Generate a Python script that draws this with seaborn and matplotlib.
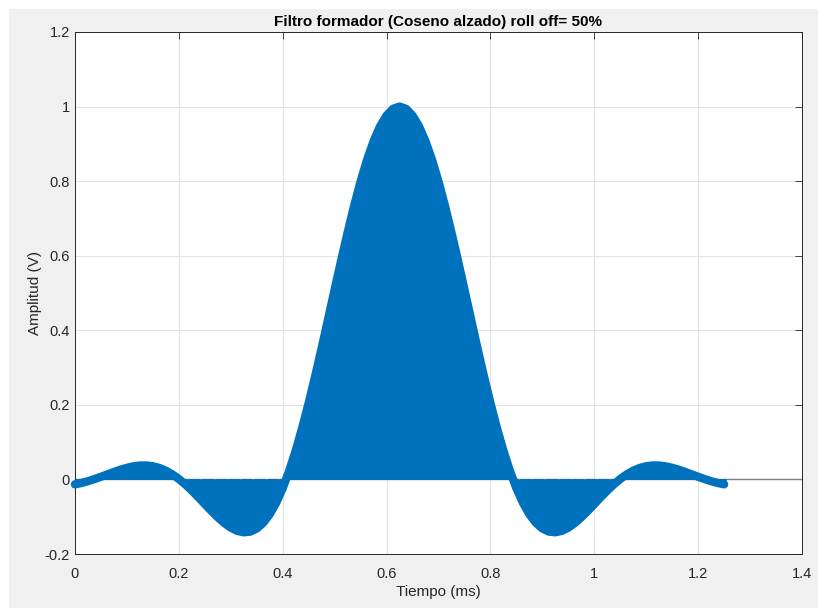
import matplotlib
matplotlib.use("Agg")
import matplotlib.pyplot as plt
import seaborn as sns
import pandas as pd
from matplotlib.patches import Rectangle
from matplotlib.ticker import FixedLocator, FuncFormatter

# Pulse-shaping filter output, sampled every 0.0125 ms (time in ms, amplitude in V)
tiempo = [0.0000, 0.0125, 0.0250, 0.0375, 0.0500, 0.0625, 0.0750, 0.0875, 0.1000, 0.1125,
          0.1250, 0.1375, 0.1500, 0.1625, 0.1750, 0.1875, 0.2000, 0.2125, 0.2250, 0.2375,
          0.2500, 0.2625, 0.2750, 0.2875, 0.3000, 0.3125, 0.3250, 0.3375, 0.3500, 0.3625,
          0.3750, 0.3875, 0.4000, 0.4125, 0.4250, 0.4375, 0.4500, 0.4625, 0.4750, 0.4875,
          0.5000, 0.5125, 0.5250, 0.5375, 0.5500, 0.5625, 0.5750, 0.5875, 0.6000, 0.6125,
          0.6250, 0.6375, 0.6500, 0.6625, 0.6750, 0.6875, 0.7000, 0.7125, 0.7250, 0.7375,
          0.7500, 0.7625, 0.7750, 0.7875, 0.8000, 0.8125, 0.8250, 0.8375, 0.8500, 0.8625,
          0.8750, 0.8875, 0.9000, 0.9125, 0.9250, 0.9375, 0.9500, 0.9625, 0.9750, 0.9875,
          1.0000, 1.0125, 1.0250, 1.0375, 1.0500, 1.0625, 1.0750, 1.0875, 1.1000, 1.1125,
          1.1250, 1.1375, 1.1500, 1.1625, 1.1750, 1.1875, 1.2000, 1.2125, 1.2250, 1.2375,
          1.2500]
amplitud = [-0.0132, -0.0095, -0.0047, 0.0009, 0.0071, 0.0136, 0.0201, 0.0261, 0.0312, 0.0351,
            0.0373, 0.0375, 0.0354, 0.0308, 0.0235, 0.0136, 0.0012, -0.0134, -0.0299, -0.0476,
            -0.0660, -0.0843, -0.1015, -0.1169, -0.1294, -0.1380, -0.1418, -0.1400, -0.1317, -0.1163,
            -0.0934, -0.0625, -0.0237, 0.0230, 0.0770, 0.1380, 0.2050, 0.2768, 0.3520, 0.4304,
            0.5090, 0.5870, 0.6620, 0.7336, 0.7990, 0.8574, 0.9070, 0.9470, 0.9760, 0.9940,
            1.0000, 0.9940, 0.9760, 0.9470, 0.9070, 0.8574, 0.7990, 0.7336, 0.6620, 0.5870,
            0.5090, 0.4304, 0.3520, 0.2768, 0.2050, 0.1380, 0.0770, 0.0230, -0.0237, -0.0625,
            -0.0934, -0.1163, -0.1317, -0.1400, -0.1418, -0.1380, -0.1294, -0.1169, -0.1015, -0.0843,
            -0.0660, -0.0476, -0.0299, -0.0134, 0.0012, 0.0136, 0.0235, 0.0308, 0.0354, 0.0375,
            0.0373, 0.0351, 0.0312, 0.0261, 0.0201, 0.0136, 0.0071, 0.0009, -0.0047, -0.0095,
            -0.0132]

x_ticks = [0, 0.2, 0.4, 0.6, 0.8, 1.0, 1.2, 1.4]
y_ticks = [-0.2, 0, 0.2, 0.4, 0.6, 0.8, 1.0, 1.2]

df = pd.DataFrame({"t": tiempo, "y": amplitud})

sns.set_style("white")
plt.rcParams["font.family"] = ["Liberation Sans", "DejaVu Sans"]
plt.rcParams["axes.unicode_minus"] = False

azul = "#0072BD"
eje = "#262626"

fig = plt.figure(figsize=(8.23, 6.08), dpi=100, facecolor="white")
# grey figure panel with a thin white border on the top and left
panel = Rectangle((9 / 823, 0), 809 / 823, 599 / 608, transform=fig.transFigure,
                  facecolor="#F0F0F0", edgecolor="none", linewidth=0, zorder=-10)
fig.add_artist(panel)
ax = fig.add_axes([0.0911, 0.0888, 0.8834, 0.8586])
ax.set_zorder(1)
ax.set_facecolor("white")

# grid and baseline
ax.grid(True, color="#E3E3E3", linewidth=0.8, zorder=0)
ax.set_axisbelow(True)
ax.axhline(0, color="#808080", linewidth=1.0, zorder=1)

# stems merge into a solid area between the baseline and the samples
ax.vlines(df["t"], 0, df["y"], color=azul, linewidth=4, zorder=2)
ax.fill_between(df["t"], 0, df["y"], color=azul, linewidth=0, zorder=2)
sns.lineplot(data=df, x="t", y="y", ax=ax, color=azul, linewidth=6,
             solid_capstyle="round", solid_joinstyle="round", zorder=3, legend=False,
             clip_on=False)

ax.set_xlim(0, 1.4)
ax.set_ylim(-0.2, 1.2)
fmt = FuncFormatter(lambda v, p: f"{v:g}")
ax.xaxis.set_major_locator(FixedLocator(x_ticks))
ax.yaxis.set_major_locator(FixedLocator(y_ticks))
ax.xaxis.set_major_formatter(fmt)
ax.yaxis.set_major_formatter(fmt)

ax.tick_params(direction="in", length=5, width=0.6, color=eje, labelcolor=eje,
               labelsize=10.5, top=True, right=True)
ax.tick_params(axis="x", pad=9.5)
ax.tick_params(axis="y", pad=3.5)
for s in ax.spines.values():
    s.set_visible(True)
    s.set_color(eje)
    s.set_linewidth(0.7)

ax.set_xlabel("Tiempo (ms)", fontsize=11, color=eje, labelpad=3)
ax.set_ylabel("Amplitud (V)", fontsize=11, color=eje, labelpad=2)
ax.set_title("Filtro formador (Coseno alzado) roll off= 50%", fontsize=11,
             fontweight="bold", color="black", pad=4)

fig.savefig("out.png", dpi=100, facecolor=fig.get_facecolor())
